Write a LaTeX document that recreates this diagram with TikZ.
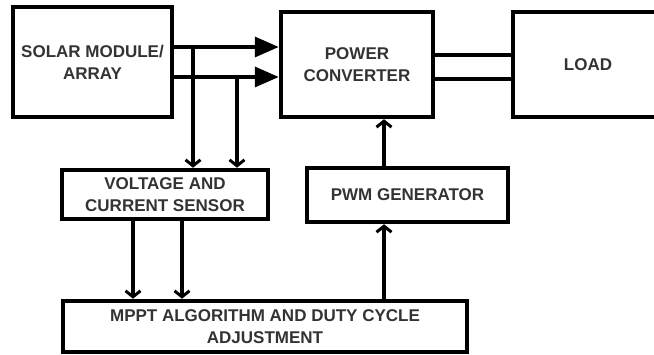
\documentclass[tikz,border=0pt]{standalone}
\usepackage{fontspec}
\setmainfont{Liberation Sans}
\usetikzlibrary{arrows.meta}

\begin{document}
\begin{tikzpicture}[
x=1pt, y=-1pt,
box/.style={rectangle, draw, line width=4.5pt, align=center, inner sep=0pt,
  font=\fontsize{17}{22}\selectfont\bfseries, text=black!80},
link/.style={line width=3.5pt},
bigarrow/.style={link, -{Triangle[length=24pt,width=20pt]}},
barb/.style={link, -{Straight Barb[length=6pt,width=15pt,line width=3pt]}}
]
\useasboundingbox (0,0) rectangle (654,355);

\node[box, minimum width=159pt, minimum height=110pt] (solar) at (92.5,62) {SOLAR MODULE/\\ARRAY};
\node[box, minimum width=152pt, minimum height=105pt] (power) at (357,64.5) {POWER\\CONVERTER};
\node[box, minimum width=200pt, minimum height=105pt] (load) at (613,64.5) {\hspace*{-50pt}LOAD};

\node[box, minimum width=206pt, minimum height=49pt] (sensor) at (165,194.5) {VOLTAGE AND\\CURRENT SENSOR};
\node[box, minimum width=201pt, minimum height=54pt] (pwm) at (407.5,195) {PWM GENERATOR};
\node[box, minimum width=404pt, minimum height=51pt] (mppt) at (265,326.5) {MPPT ALGORITHM AND DUTY CYCLE\\ADJUSTMENT};

% taps on the two lines out of the array
\coordinate (tapv) at (193,47);
\coordinate (tapi) at (237,77);

\draw[bigarrow] (solar.east |- tapv) -- (power.west |- tapv);
\draw[bigarrow] (solar.east |- tapi) -- (power.west |- tapi);
\draw[barb] (tapv) -- (sensor.north -| tapv);
\draw[barb] (tapi) -- (sensor.north -| tapi);

\draw[link] ([yshift=9.5pt]power.east) -- ([yshift=9.5pt]load.west);
\draw[link] ([yshift=-14.5pt]power.east) -- ([yshift=-14.5pt]load.west);

\draw[barb] ([xshift=-32pt]sensor.south) -- ([xshift=-32pt]sensor.south |- mppt.north);
\draw[barb] ([xshift=17pt]sensor.south) -- ([xshift=17pt]sensor.south |- mppt.north);

\draw[barb] ([xshift=-23.5pt]pwm.south |- mppt.north) -- ([xshift=-23.5pt]pwm.south);
\draw[barb] ([xshift=-23.5pt]pwm.north) -- ([xshift=-23.5pt]pwm.north |- power.south);

\end{tikzpicture}
\end{document}
